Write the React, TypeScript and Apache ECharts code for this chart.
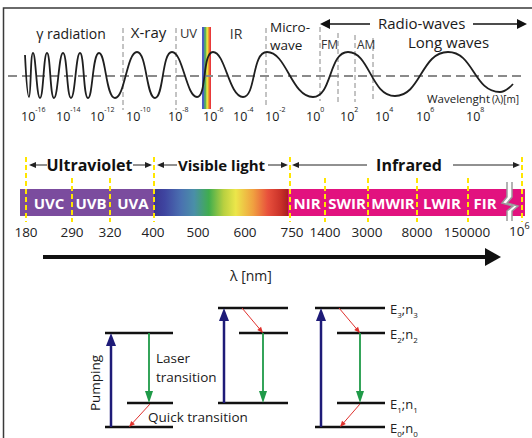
import React, { useEffect, useRef } from "react";
import * as echarts from "echarts";

// ---------- data ----------
// top wave: extrema (x along the band, y level) of the illustrative wave
const waveX = [25, 29, 33, 40, 47, 54, 63, 71, 80, 88, 99, 115, 137, 155, 172, 197, 213, 243, 267, 313, 348, 395, 448, 500, 513];
const waveY = [55, 97, 53, 98, 53, 98, 53, 98, 53, 98, 53, 98, 52, 98, 52, 97, 52, 97, 52, 97, 52, 96, 52, 92, 84];

// top wavelength ticks (powers of ten, metres)
const topExponents = ["-16", "-14", "-12", "-10", "-8", "-6", "-4", "-2", "0", "2", "4", "6", "8"];
const topTickX = [28, 63, 97, 133, 175, 210, 240, 272, 313, 347, 382, 423, 473];

// nm scale of the band
const nmLabels = ["180", "290", "320", "400", "500", "600", "750", "1400", "3000", "8000", "150000"];
const nmLabelX = [26, 72, 110, 153, 198, 245, 292, 325, 367, 417, 467];
const bandNames = ["UVC", "UVB", "UVA", "NIR", "SWIR", "MWIR", "LWIR", "FIR"];
const bandNameX = [49, 91, 133, 307, 347, 393, 442, 485];
const boundaryX = [26, 72, 110, 154, 290, 325, 368, 417, 468, 522];
const boundaryTall = [true, false, false, true, true, false, false, false, false, true];

// energy levels: [x1, x2, y]
const levels = [
  [105, 173, 333], [127, 173, 403], [105, 173, 427],
  [218, 288, 308], [239, 288, 333], [218, 288, 403],
  [315, 385, 308], [337, 385, 333], [337, 385, 403], [315, 385, 427],
];
const levelNames = ["3", "2", "1", "0"];
const levelNameY = [309, 334, 404, 428];

const FONT = "'Open Sans', 'Noto Sans', sans-serif";
const NAVY = "#1e1b78";
const GREEN = "#1f9a48";
const RED = "#e0322e";

function arrow(x1: number, y1: number, x2: number, y2: number, color: string, lw: number, hl: number, hw: number, z = 10): any[] {
  const dx = x2 - x1, dy = y2 - y1;
  const L = Math.hypot(dx, dy);
  const ux = dx / L, uy = dy / L;
  const bx = x2 - ux * hl, by = y2 - uy * hl;
  const px = -uy, py = ux;
  return [
    { type: "line", z, shape: { x1, y1, x2: bx + ux, y2: by + uy }, style: { stroke: color, lineWidth: lw } },
    {
      type: "polygon", z,
      shape: { points: [[x2, y2], [bx + (px * hw) / 2, by + (py * hw) / 2], [bx - (px * hw) / 2, by - (py * hw) / 2]] },
      style: { fill: color },
    },
  ];
}

function txt(text: string, x: number, y: number, size: number, o: any = {}): any {
  const style: any = {
    text, fill: o.fill || "#1a1a1a", fontSize: size, fontFamily: FONT,
    fontWeight: o.weight || "normal", align: o.align || "center", verticalAlign: "middle",
  };
  if (o.rich) style.rich = o.rich;
  if (o.lineHeight) style.lineHeight = o.lineHeight;
  return { type: "text", x, y, z: 20, rotation: o.rotation || 0, style };
}

function vdash(x: number, y1: number, y2: number, color: string, lw: number, dash: number[]): any {
  return { type: "line", z: 4, shape: { x1: x, y1, x2: x, y2 }, style: { stroke: color, lineWidth: lw, lineDash: dash } };
}

export default function App() {
  const ref = useRef<HTMLDivElement>(null);
  useEffect(() => {
    if (!ref.current) return;
    const chart = echarts.init(ref.current, undefined, { renderer: "svg" });
    const g: any[] = [];

    // frame
    g.push({ type: "polyline", z: 1, shape: { points: [[3.5, 438], [3.5, 8], [532, 8]] }, style: { stroke: "#3a3a3a", lineWidth: 1.5, fill: "none" } });

    // ---- top panel ----
    g.push({
      type: "rect", z: 2, shape: { x: 202, y: 27, width: 9, height: 82 },
      style: {
        fill: new echarts.graphic.LinearGradient(0, 0, 1, 0, [
          { offset: 0, color: "#4a5cc2" }, { offset: 0.22, color: "#4a5cc2" },
          { offset: 0.3, color: "#5ab55a" }, { offset: 0.45, color: "#5ab55a" },
          { offset: 0.52, color: "#e8e040" }, { offset: 0.62, color: "#e8e040" },
          { offset: 0.7, color: "#f0a030" }, { offset: 0.8, color: "#f0a030" },
          { offset: 0.86, color: "#e8393a" }, { offset: 1, color: "#e8393a" },
        ]),
      },
    });
    g.push({ type: "line", z: 3, shape: { x1: 8, y1: 76, x2: 522, y2: 76 }, style: { stroke: "#8a8a8a", lineWidth: 2, lineDash: [9, 5] } });
    g.push(vdash(123, 28, 110, "#888", 1, [5, 3]));
    g.push(vdash(176, 28, 110, "#888", 1, [5, 3]));
    g.push(vdash(266, 28, 107, "#888", 1, [5, 3]));
    g.push(vdash(320, 27, 101, "#888", 1, [5, 3]));
    g.push(vdash(338, 33, 103, "#888", 1, [5, 3]));
    g.push(vdash(355, 35, 102, "#888", 1, [5, 3]));
    g.push(vdash(373, 38, 100, "#888", 1, [5, 3]));

    g.push(txt("γ radiation", 71, 33, 14));
    g.push(txt("X-ray", 148.5, 32, 15));
    g.push(txt("UV", 188.5, 33, 13, { fill: "#333" }));
    g.push(txt("IR", 236, 33, 14, { fill: "#333" }));
    g.push(txt("Micro-", 270, 27, 13.5, { align: "left" }));
    g.push(txt("wave", 270, 45, 13.5, { align: "left" }));
    g.push(txt("FM", 321, 44, 12, { align: "left", fill: "#333" }));
    g.push(txt("AM", 357, 44, 12, { align: "left", fill: "#333" }));
    g.push(txt("Radio-waves", 378, 23, 15, { align: "left" }));
    g.push(txt("Long waves", 408, 42, 15, { align: "left" }));
    g.push(txt("Wavelenght", 427, 98, 11.5, { align: "left" }));
    g.push(txt("(λ)[m]", 492, 99, 10, { align: "left" }));
    g.push(...arrow(370, 24, 320, 24, "#111", 1.5, 10, 10));
    g.push(...arrow(473, 24, 527, 24, "#111", 1.5, 10, 10));

    const supRich = {
      b: { fontSize: 12.5, fontFamily: FONT, lineHeight: 20, verticalAlign: "middle", fill: "#1a1a1a" },
      s: { fontSize: 7, fontFamily: FONT, lineHeight: 9, verticalAlign: "top", fill: "#1a1a1a" },
    };
    topExponents.forEach((e, i) => {
      g.push(txt(`{b|10}{s|${e}}`, topTickX[i] - 7, 116, 12.5, { align: "left", rich: supRich }));
    });

    // ---- band panel ----
    g.push({ type: "rect", z: 2, shape: { x: 20, y: 189, width: 134, height: 27 }, style: { fill: "#7b4c9e" } });
    g.push({
      type: "rect", z: 2, shape: { x: 154, y: 189, width: 134, height: 27 },
      style: {
        fill: new echarts.graphic.LinearGradient(0, 0, 1, 0, [
          { offset: 0, color: "#3a3590" }, { offset: 0.08, color: "#3f45a0" },
          { offset: 0.2, color: "#4a70b0" }, { offset: 0.3, color: "#4a8fa8" },
          { offset: 0.41, color: "#40ad4e" }, { offset: 0.52, color: "#b8d040" },
          { offset: 0.61, color: "#ece64a" }, { offset: 0.74, color: "#f0a040" },
          { offset: 0.85, color: "#e8503c" }, { offset: 0.95, color: "#c83028" },
          { offset: 1, color: "#a81e22" },
        ]),
      },
    });
    g.push({ type: "rect", z: 2, shape: { x: 288, y: 189, width: 237, height: 27 }, style: { fill: "#e2127f" } });
    // break mark
    g.push({
      type: "polygon", z: 6,
      shape: { points: [[507, 182], [512, 182], [512, 197], [507, 203], [518, 206], [512, 211], [512, 221], [507, 221], [507, 211], [513, 206], [502, 203], [507, 197]] },
      style: { fill: "#fff" },
    });
    g.push({ type: "polyline", z: 7, shape: { points: [[507, 182], [507, 197], [502, 203], [513, 206], [507, 211], [507, 221]] }, style: { stroke: "#9a9a9a", lineWidth: 1.5, fill: "none" } });
    g.push({ type: "polyline", z: 7, shape: { points: [[512, 182], [512, 197], [507, 203], [518, 206], [512, 211], [512, 221]] }, style: { stroke: "#9a9a9a", lineWidth: 1.5, fill: "none" } });

    boundaryX.forEach((x, i) => g.push(vdash(x, boundaryTall[i] ? 157 : 178, 222, "#ffe600", 2, [5, 3])));
    bandNames.forEach((n, i) => g.push(txt(n, bandNameX[i], 203, 15, { fill: "#fff", weight: "bold" })));
    nmLabels.forEach((n, i) => g.push(txt(n, nmLabelX[i], 232, 13.5, { fill: "#222" })));
    g.push(txt("{b|10}{s|6}", 509, 231, 13.5, {
      align: "left", fill: "#222",
      rich: {
        b: { fontSize: 13.5, fontFamily: FONT, lineHeight: 20, verticalAlign: "middle", fill: "#222" },
        s: { fontSize: 9, fontFamily: FONT, lineHeight: 10, verticalAlign: "top", fill: "#222" },
      },
    }));

    g.push(txt("Ultraviolet", 89.5, 165, 16, { weight: "bold", fill: "#111" }));
    g.push(txt("Visible light", 221.5, 165, 15, { weight: "bold", fill: "#111" }));
    g.push(txt("Infrared", 409, 165, 16, { weight: "bold", fill: "#111" }));
    g.push(...arrow(47, 165, 29, 165, "#222", 1, 7, 6));
    g.push(...arrow(133, 165, 152, 165, "#222", 1, 7, 6));
    g.push(...arrow(177, 165, 157, 165, "#222", 1, 7, 6));
    g.push(...arrow(268, 165, 288, 165, "#222", 1, 7, 6));
    g.push(...arrow(367, 165, 292, 165, "#222", 1, 7, 6));
    g.push(...arrow(453, 165, 520, 165, "#222", 1, 7, 6));

    // big axis arrow
    g.push(...arrow(43, 257, 501, 257, "#111", 4, 16, 18));
    g.push(txt("λ [nm]", 251, 275, 14, { fill: "#222" }));

    // ---- energy diagrams ----
    levels.forEach(([x1, x2, y]) => g.push({ type: "line", z: 8, shape: { x1, y1: y, x2, y2: y }, style: { stroke: "#111", lineWidth: 2.5 } }));
    g.push(...arrow(111, 427, 111, 333, NAVY, 2.5, 13, 10));
    g.push(...arrow(149, 333, 149, 403, GREEN, 1.8, 12, 8));
    g.push(...arrow(150, 404, 129, 427, RED, 1, 6, 5));
    g.push(...arrow(224, 403, 224, 308, NAVY, 2.5, 13, 10));
    g.push(...arrow(242, 308, 263, 333, RED, 1, 6, 5));
    g.push(...arrow(263, 333, 263, 403, GREEN, 1.8, 12, 8));
    g.push(...arrow(321, 427, 321, 308, NAVY, 2.5, 13, 10));
    g.push(...arrow(339, 308, 360, 333, RED, 1, 6, 5));
    g.push(...arrow(360, 333, 360, 403, GREEN, 1.8, 12, 8));
    g.push(...arrow(360, 404, 340, 427, RED, 1, 6, 5));

    g.push(txt("Pumping", 95, 383, 13.5, { rotation: Math.PI / 2 }));
    g.push(txt("Laser", 156, 358, 13.5, { align: "left" }));
    g.push(txt("transition", 156, 377, 13.5, { align: "left" }));
    g.push(txt("Quick transition", 148, 417, 13.5, { align: "left" }));
    const subRich = {
      b: { fontSize: 13, fontFamily: FONT, lineHeight: 18, verticalAlign: "middle", fill: "#222" },
      s: { fontSize: 8, fontFamily: FONT, lineHeight: 8, verticalAlign: "bottom", fill: "#222" },
    };
    levelNames.forEach((n, i) => g.push(txt(`{b|E}{s|${n}}{b|;n}{s|${n}}`, 390, levelNameY[i], 13, { align: "left", rich: subRich })));

    chart.setOption({
      animation: false,
      grid: { left: 0, right: 0, top: 0, bottom: 0 },
      xAxis: { type: "value", min: 0, max: 532, show: false },
      yAxis: { type: "value", min: 0, max: 438, inverse: true, show: false },
      series: [
        {
          type: "line", z: 5, silent: true, symbol: "none", smooth: 0.5,
          data: waveX.map((x, i) => [x, waveY[i]]),
          lineStyle: { color: "#1f1f1f", width: 1.8 },
        },
      ],
      graphic: g,
    });
    return () => chart.dispose();
  }, []);
  return <div ref={ref} style={{ position: "fixed", left: 0, top: 0, width: 532, height: 438, background: "#fff" }} />;
}
